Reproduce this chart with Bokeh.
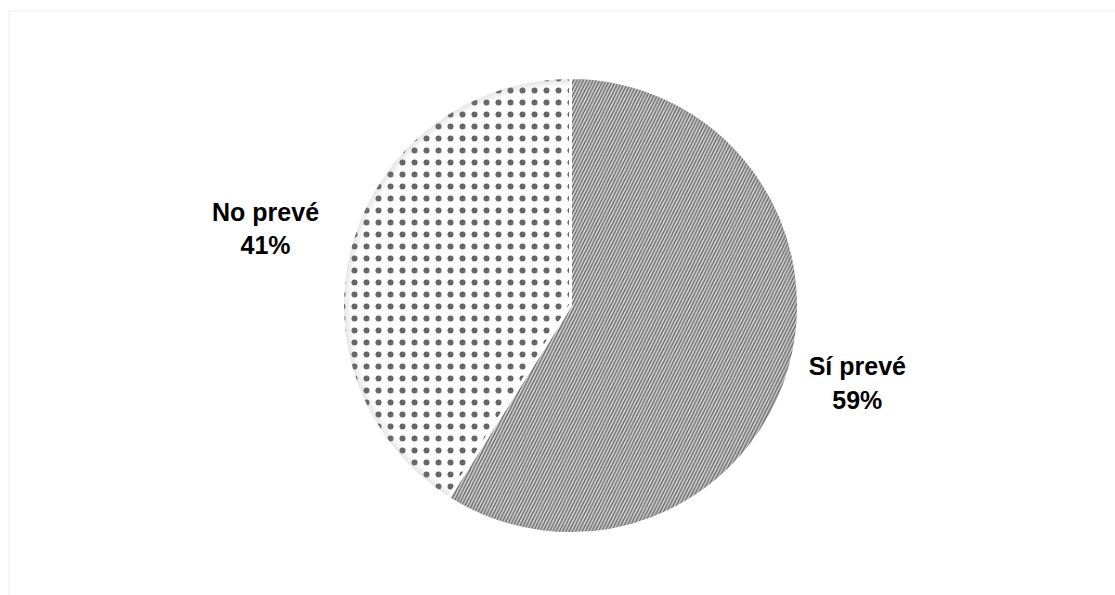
import numpy as np
from bokeh.plotting import figure
from bokeh.models import ColumnDataSource, BoxAnnotation
from bokeh.core.properties import value
from bokeh.embed import file_html
from bokeh.resources import INLINE

# ---- data ----
categories = ["Sí prevé", "No prevé"]
shares = [59, 41]
labels = ["Sí prevé\n59%", "No prevé\n41%"]

# ---- styles ----
fill_colors = ["#d6d6d6", "#ffffff"]
hatch_patterns = ["right_diagonal_line", "dot"]
hatch_colors = ["#5e5e5e", "#000000"]
hatch_scales = [6.5, 12]
hatch_weights = [1.3, 1.0]
hatch_alphas = [1.0, 0.6]
label_radius_factor = [1.31, 1.37]
label_dx = [0, -5]
label_dy = [6, -10]

W, H = 1115, 595
cx, cy, R = 570, 290, 228

vals = np.array(shares, dtype=float)
frac = vals / vals.sum()
cum = np.concatenate([[0], np.cumsum(frac)])
start = np.pi / 2 - 2 * np.pi * cum[:-1]
end = np.pi / 2 - 2 * np.pi * cum[1:]
mid = (start + end) / 2
lab_r = R * np.array(label_radius_factor)

src = ColumnDataSource(dict(
    cat=categories, start=start, end=end,
    fill=fill_colors, hp=hatch_patterns, hc=hatch_colors,
    hs=hatch_scales, hw=hatch_weights, ha=hatch_alphas,
    lx=cx + lab_r * np.cos(mid) + np.array(label_dx),
    ly=cy + lab_r * np.sin(mid) + np.array(label_dy), lab=labels,
))

p = figure(width=W, height=H, x_range=(0, W), y_range=(0, H),
           output_backend="svg", toolbar_location=None, min_border=0)
p.axis.visible = False
p.grid.visible = False
p.outline_line_color = None
p.background_fill_color = "white"

# chart-area border (light gray)
p.add_layout(BoxAnnotation(left=8.5, right=W + 50, top=H - 10.5, bottom=-50,
                           fill_alpha=0, line_color="#d9d9d9", line_width=1.5))

p.wedge(x=cx, y=cy, radius=R, start_angle="start", end_angle="end",
        direction="clock", source=src,
        fill_color="fill", line_color=None,
        hatch_pattern="hp", hatch_color="hc", hatch_scale="hs",
        hatch_weight="hw", hatch_alpha="ha")

# soft shading toward the rim
for k in range(7):
    p.annular_wedge(x=cx, y=cy, inner_radius=R - (k + 1) * 1.3, outer_radius=R,
                    start_angle="start", end_angle="end", direction="clock",
                    source=src, fill_color="#808080", fill_alpha=0.035,
                    line_color=None)

# white separators
p.wedge(x=cx, y=cy, radius=R, start_angle="start", end_angle="end",
        direction="clock", source=src,
        fill_color=None, line_color="white", line_width=3)

p.text(x="lx", y="ly", text="lab", source=src,
       text_font=value("Liberation Sans"), text_font_style="bold",
       text_font_size="25px", text_color="black",
       text_align="center", text_baseline="middle", text_line_height=1.2)

open("out.html", "w").write(file_html(p, INLINE))
